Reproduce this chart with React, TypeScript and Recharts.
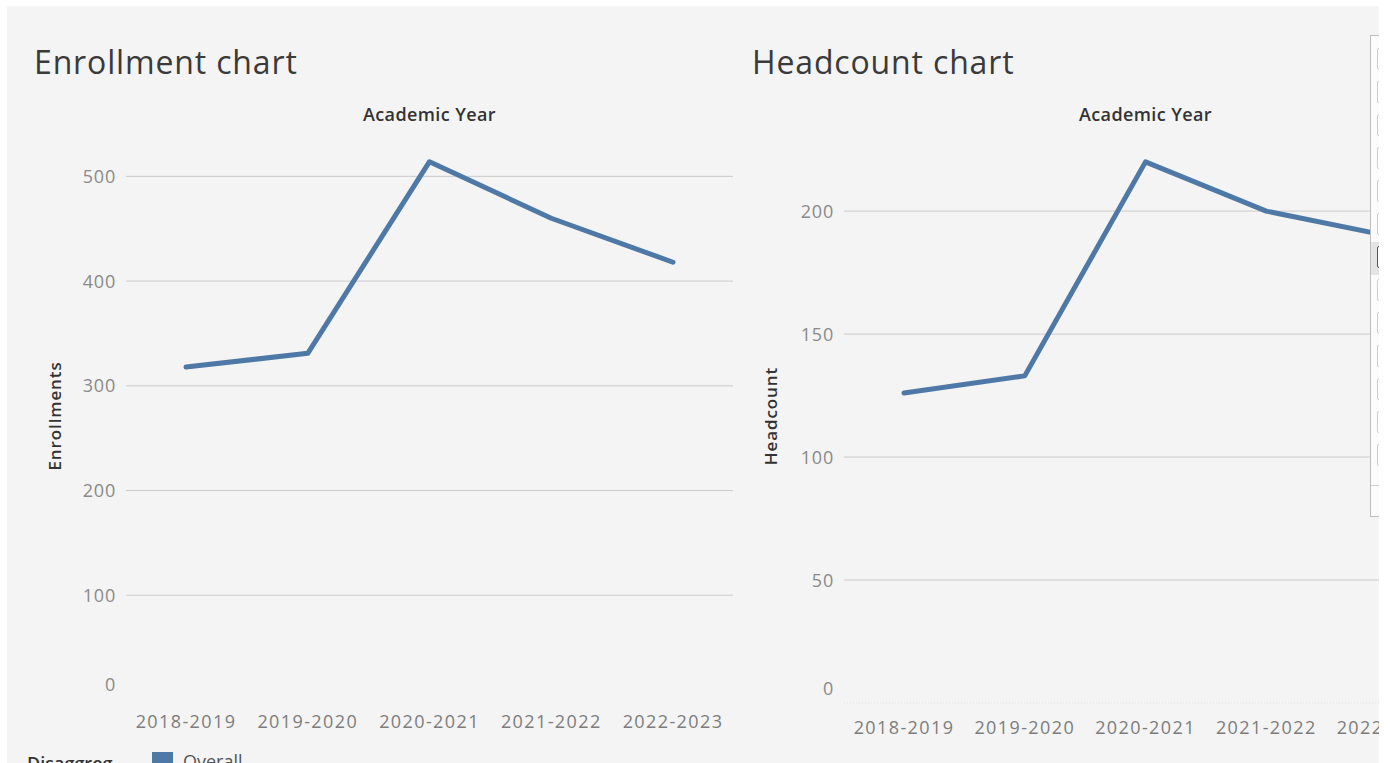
import { CartesianGrid, Line, LineChart, ReferenceLine, XAxis, YAxis } from 'recharts';

const years = ['2018-2019', '2019-2020', '2020-2021', '2021-2022', '2022-2023'];
const enrollments = [318, 331, 514, 460, 418];
const headcount = [126, 133, 220, 200, 190];
const enrollTicks = [0, 100, 200, 300, 400, 500];
const headTicks = [0, 50, 100, 150, 200];
const filterRows = [0, 1, 2, 3, 4, 5, 6, 7, 8, 9, 10, 11, 12];

const data = years.map((year, i) => ({ year, enrollments: enrollments[i], headcount: headcount[i] }));

const FONT = '"Open Sans", "Noto Sans", sans-serif';
const BLUE = '#4e79a7';
const GRID = '#cbcbcb';
const OX = 7;
const OY = 6;

function makeYTick(zeroShift: number) {
  return (props: any) => {
    const { x, y, payload } = props;
    const dy = payload.value === 0 ? zeroShift : 0;
    return (
      <text x={x} y={y + dy} dy="0.36em" textAnchor="end" fontSize={18} fill="#8a8a8a" fontFamily={FONT} letterSpacing={0.8}>
        {payload.value}
      </text>
    );
  };
}

function XTick(props: any) {
  const { x, y, payload } = props;
  return (
    <text x={x} y={y} dy="0.71em" textAnchor="middle" fontSize={18} fill="#7d7d7d" fontFamily={FONT} letterSpacing={1.4}>
      {payload.value}
    </text>
  );
}

type PanelProps = {
  title: string;
  yLabel: string;
  dataKey: string;
  ticks: number[];
  domainMax: number;
  left: number;
  width: number;
  axisWidth: number;
  top: number;
  xAxisHeight: number;
  tickMargin: number;
  zeroShift: number;
  titleX: number;
  yLabelX: number;
  zeroLine?: boolean;
};

function ChartPanel(p: PanelProps) {
  const plotLeft = p.left + p.axisWidth;
  const plotWidth = p.width - p.axisWidth;
  return (
    <>
      <div
        style={{
          position: 'absolute',
          left: p.titleX - OX,
          top: 40 - OY,
          fontFamily: FONT,
          fontSize: 32,
          color: '#3a3a3a',
          whiteSpace: 'nowrap',
          letterSpacing: 0.85,
        }}
      >
        {p.title}
      </div>
      <div
        style={{
          position: 'absolute',
          left: plotLeft - OX,
          width: plotWidth,
          top: 102 - OY,
          textAlign: 'center',
          fontFamily: FONT,
          fontSize: 18,
          fontWeight: 600,
          color: '#333',
          letterSpacing: 0.4,
        }}
      >
        Academic Year
      </div>
      <div
        style={{
          position: 'absolute',
          left: p.yLabelX - OX - 60,
          top: 416 - OY - 12,
          width: 120,
          height: 24,
          lineHeight: '24px',
          textAlign: 'center',
          transform: 'rotate(-90deg)',
          fontFamily: FONT,
          fontSize: 17,
          fontWeight: 600,
          color: '#333',
          letterSpacing: 0.9,
        }}
      >
        {p.yLabel}
      </div>
      <div style={{ position: 'absolute', left: p.left - OX, top: -OY }}>
        <LineChart width={p.width} height={763} data={data} margin={{ top: p.top, right: 0, bottom: 0, left: 0 }}>
          <CartesianGrid vertical={false} horizontal={false} />
          <XAxis
            dataKey="year"
            axisLine={false}
            tickLine={false}
            height={p.xAxisHeight}
            padding={{ left: 60, right: 60 }}
            tick={<XTick />}
            tickMargin={p.tickMargin}
            interval={0}
          />
          <YAxis
            width={p.axisWidth}
            domain={[0, p.domainMax]}
            ticks={p.ticks}
            axisLine={false}
            tickLine={false}
            tick={makeYTick(p.zeroShift)}
            tickMargin={4}
          />
          {p.ticks
            .filter((t) => t > 0)
            .map((t) => (
              <ReferenceLine key={t} y={t} stroke={GRID} strokeWidth={1} ifOverflow="visible" />
            ))}
          {p.zeroLine && <ReferenceLine y={0} stroke="#e2e2e2" strokeDasharray="1 2" />}
          <Line
            type="linear"
            dataKey={p.dataKey}
            stroke={BLUE}
            strokeWidth={5}
            strokeLinecap="round"
            strokeLinejoin="round"
            dot={false}
            activeDot={false}
            isAnimationActive={false}
          />
        </LineChart>
      </div>
    </>
  );
}

export default function App() {
  return (
    <div style={{ position: 'absolute', left: 0, top: 0, width: 1390, height: 763, background: '#fff', overflow: 'hidden' }}>
      <div
        style={{
          position: 'absolute',
          left: OX,
          top: OY,
          width: 1379 - OX,
          height: 763 - OY,
          background: '#f4f4f4',
          overflow: 'hidden',
        }}
      >
        <ChartPanel
          title="Enrollment chart"
          yLabel="Enrollments"
          dataKey="enrollments"
          ticks={enrollTicks}
          domainMax={550}
          left={0}
          width={733}
          axisWidth={126}
          top={124}
          xAxisHeight={63}
          tickMargin={9}
          zeroShift={-15}
          titleX={34}
          yLabelX={55}
        />
        <ChartPanel
          title="Headcount chart"
          yLabel="Headcount"
          dataKey="headcount"
          ticks={headTicks}
          domainMax={235}
          left={730}
          width={717}
          axisWidth={114}
          top={125}
          xAxisHeight={60}
          tickMargin={12}
          zeroShift={-14}
          titleX={752}
          yLabelX={771}
          zeroLine
        />

        {/* legend, cut off by the bottom of the view like in the dashboard */}
        <div
          style={{
            position: 'absolute',
            left: 27 - OX,
            top: 751 - OY,
            fontFamily: FONT,
            fontSize: 18,
            fontWeight: 600,
            color: '#333',
            whiteSpace: 'nowrap',
          }}
        >
          Disaggreg
        </div>
        <div style={{ position: 'absolute', left: 152 - OX, top: 752 - OY, width: 21, height: 21, background: BLUE }} />
        <div
          style={{
            position: 'absolute',
            left: 183 - OX,
            top: 749 - OY,
            fontFamily: FONT,
            fontSize: 18,
            color: '#555',
            whiteSpace: 'nowrap',
          }}
        >
          Overall
        </div>

        {/* filter list panel on the right edge */}
        <div
          style={{
            position: 'absolute',
            left: 1370 - OX,
            top: 35 - OY,
            width: 40,
            height: 482,
            background: '#fbfbfb',
            border: '1px solid #bdbdbd',
            boxSizing: 'border-box',
          }}
        >
          {filterRows.map((r) => (
            <div
              key={r}
              style={{
                position: 'absolute',
                left: 0,
                top: 8 + r * 33,
                width: 40,
                height: 33,
                background: r === 6 ? '#e4e4e4' : 'transparent',
              }}
            >
              <div
                style={{
                  position: 'absolute',
                  left: 6,
                  top: 4,
                  width: 14,
                  height: 22,
                  border: r === 6 ? '1px solid #555' : '1px solid #cfcfcf',
                  borderRadius: 2,
                  boxSizing: 'border-box',
                  background: '#fff',
                }}
              />
            </div>
          ))}
          <div style={{ position: 'absolute', left: 0, top: 449, width: 40, borderTop: '1px solid #cfcfcf' }} />
        </div>
      </div>
    </div>
  );
}
